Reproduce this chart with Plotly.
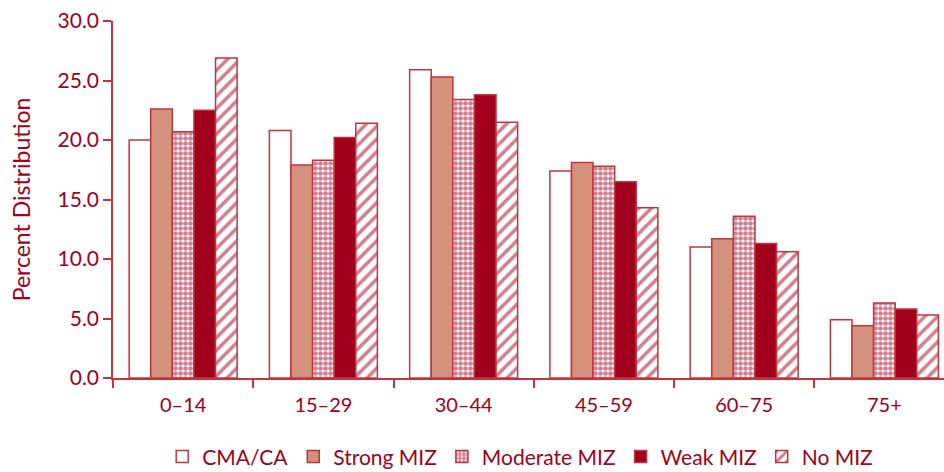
import plotly.graph_objects as go

# Age groups and percent distribution by zone type
age_groups = ["0–14", "15–29", "30–44", "45–59", "60–75", "75+"]
cma_ca = [20.0, 20.8, 25.9, 17.4, 11.0, 4.9]
strong_miz = [22.6, 17.9, 25.3, 18.1, 11.7, 4.4]
moderate_miz = [20.7, 18.3, 23.4, 17.8, 13.6, 6.3]
weak_miz = [22.5, 20.2, 23.8, 16.5, 11.3, 5.8]
no_miz = [26.9, 21.4, 21.5, 14.3, 10.6, 5.3]

y_ticks = [0, 5, 10, 15, 20, 25, 30]

DARK = "#A0001C"
OUTLINE = "#C4343F"
FONT = "Lato, 'Open Sans', sans-serif"

series = [
    ("CMA/CA", cma_ca, dict(color="white")),
    ("Strong MIZ", strong_miz, dict(color="#D4917C")),
    ("Moderate MIZ", moderate_miz,
     dict(color="white", pattern=dict(shape=".", fgcolor=DARK, bgcolor="white",
                                      size=5, solidity=0.7))),
    ("Weak MIZ", weak_miz, dict(color=DARK)),
    ("No MIZ", no_miz,
     dict(color="white", pattern=dict(shape="/", fgcolor=DARK, bgcolor="white",
                                      size=9, solidity=0.4))),
]

fig = go.Figure()
for name, vals, marker in series:
    marker = dict(marker)
    marker["line"] = dict(color=OUTLINE, width=1.5)
    fig.add_trace(go.Bar(x=age_groups, y=vals, name=name, marker=marker))

fig.update_layout(
    width=944, height=472,
    margin=dict(l=113, r=0, t=21, b=94, autoexpand=False),
    plot_bgcolor="white", paper_bgcolor="white",
    barmode="group", bargap=0.23, bargroupgap=0,
    font=dict(family=FONT, color=DARK, size=19),
    showlegend=True,
    legend=dict(orientation="h", x=0.49, xanchor="center",
                y=-0.278, yanchor="bottom",
                font=dict(size=21, color=DARK), traceorder="normal",
                itemwidth=30),
)
fig.update_xaxes(
    range=[-0.5, 5.425], showline=True, linecolor=OUTLINE, linewidth=1.5,
    ticks="outside", tickson="boundaries", ticklen=8, tickcolor=OUTLINE,
    tickwidth=1.5, showgrid=False, tickfont=dict(size=20, color=DARK),
    ticklabelstandoff=8,
)
fig.update_yaxes(
    range=[0, 30], tickvals=y_ticks,
    ticktext=[f"{v:.1f}" for v in y_ticks],
    showline=True, linecolor=OUTLINE, linewidth=1.5,
    ticks="outside", ticklen=8, tickcolor=OUTLINE, tickwidth=1.5,
    showgrid=False, zeroline=False, tickfont=dict(size=21, color=DARK),
    title=dict(text="Percent Distribution", font=dict(size=23, color=DARK), standoff=20),
)

fig.write_html("out.html")
